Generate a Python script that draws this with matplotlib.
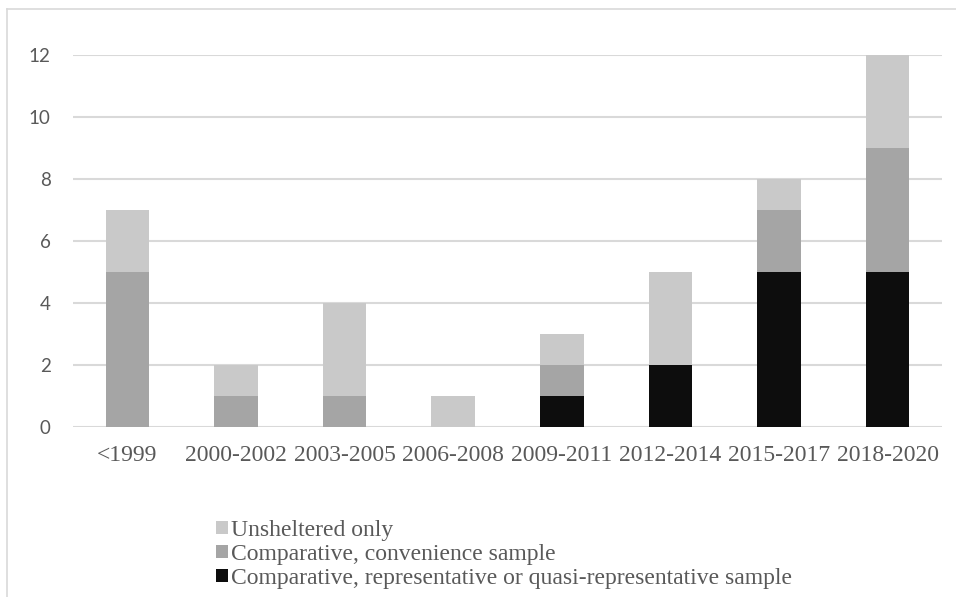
import matplotlib.pyplot as plt
from matplotlib.lines import Line2D
import numpy as np

# Data
periods = ["<1999", "2000-2002", "2003-2005", "2006-2008",
           "2009-2011", "2012-2014", "2015-2017", "2018-2020"]
representative = [0, 0, 0, 0, 1, 2, 5, 5]
convenience = [5, 1, 1, 0, 1, 0, 2, 4]
unsheltered = [2, 1, 3, 1, 1, 3, 1, 3]

series_labels = ["Comparative, representative or quasi-representative sample",
                 "Comparative, convenience sample",
                 "Unsheltered only"]
colors = ["#0d0d0d", "#a5a5a5", "#c9c9c9"]

fig = plt.figure(figsize=(9.56, 5.97), dpi=100)
ax = fig.add_axes([73/956, (597-427)/597, (942-73)/956, (427-55)/597])

x = np.arange(len(periods))
bottom = np.zeros(len(periods))
handles = []
for vals, lab, col in zip([representative, convenience, unsheltered], series_labels, colors):
    b = ax.bar(x, vals, width=0.4, bottom=bottom, color=col, label=lab, zorder=3)
    handles.append(b)
    bottom += np.array(vals)

ax.set_xlim(-0.5, len(periods) - 0.5)
ax.set_ylim(0, 12)
ax.set_yticks(range(0, 13, 2))
ax.yaxis.grid(True, color="#d9d9d9", linewidth=1.5, zorder=0)
for s in ax.spines.values():
    s.set_visible(False)
ax.tick_params(length=0)
ax.tick_params(axis="y", pad=16, labelsize=13.5, labelcolor="#595959")
ax.set_yticklabels([str(v) for v in range(0, 13, 2)], family="Lato")
ax.set_xticks(x)
ax.set_xticklabels(periods, family="Liberation Serif", fontsize=17, color="#595959")
ax.tick_params(axis="x", pad=13)

# legend, reversed order like the original
leg = fig.legend(handles[::-1], series_labels[::-1], loc="upper left",
                 bbox_to_anchor=(216/956, 1 - 520/597), frameon=False,
                 prop={"family": "Liberation Serif", "size": 17},
                 handlelength=0.5, handleheight=0.5, handletextpad=0.12,
                 labelspacing=0.12, borderpad=0, borderaxespad=0)
for t in leg.get_texts():
    t.set_color("#595959")

# thin chart frame at left and top
fig.add_artist(Line2D([7/956, 7/956], [0, 1 - 9/597], transform=fig.transFigure,
                      color="#d9d9d9", linewidth=1.2))
fig.add_artist(Line2D([7/956, 1], [1 - 9/597, 1 - 9/597], transform=fig.transFigure,
                      color="#d9d9d9", linewidth=1.2))

plt.savefig("out.png", dpi=100)
plt.close()
